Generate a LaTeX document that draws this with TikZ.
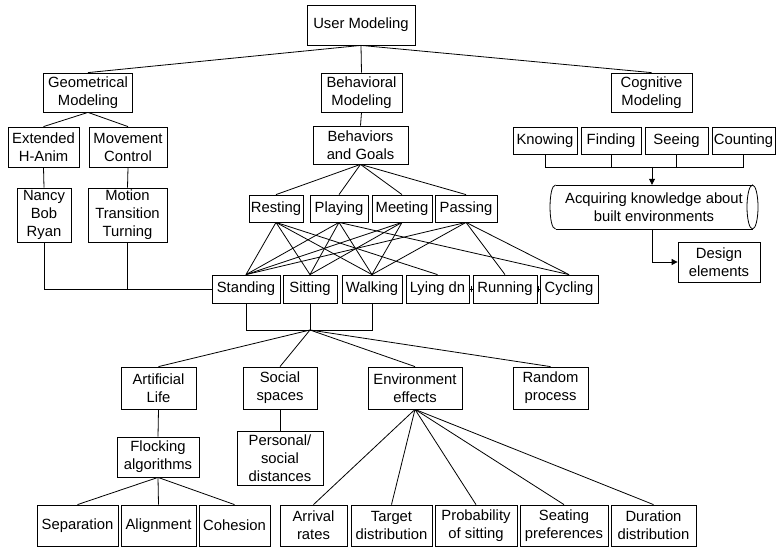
\documentclass[tikz,border=0pt]{standalone}
\usepackage{fontspec}
\setmainfont{Liberation Sans}
\usetikzlibrary{arrows.meta}
\newcommand{\fsz}{\fontsize{14.8}{18}\selectfont}
\tikzset{
  box/.style={draw, line width=0.8pt, inner sep=0pt, align=center, font=\fsz},
  link/.style={line width=0.8pt},
  arr/.style={line width=0.8pt, -{Triangle[length=6pt,width=6pt]}}
}
\newcommand{\bx}[5]{\node[box, minimum width=#3, minimum height=#4] (#1) at #2 {#5};}
\begin{document}
\begin{tikzpicture}[x=1pt,y=-1pt]
\useasboundingbox (0,0) rectangle (776,548);
% top
\bx{um}{(361,25)}{108}{40}{User Modeling}
\bx{geo}{(88,92.5)}{89}{39}{Geometrical\\Modeling}
\bx{beh}{(361.5,92.5)}{81}{39}{Behavioral\\Modeling}
\bx{cog}{(651.5,92.5)}{81}{39}{Cognitive\\Modeling}
\bx{ext}{(43.5,147)}{71}{40}{Extended\\H-Anim}
\bx{mov}{(128,147)}{78}{40}{Movement\\Control}
\bx{bg}{(360.5,145)}{95}{38}{Behaviors\\and Goals}
\bx{nancy}{(44,215)}{54}{54}{Nancy\\Bob\\Ryan}
\bx{motion}{(127.5,215)}{79}{54}{Motion\\Transition\\Turning}
% behaviours
\bx{resting}{(276,208.5)}{54}{27}{Resting}
\bx{playing}{(339,208.5)}{58}{27}{Playing}
\bx{meeting}{(402,208.5)}{60}{27}{Meeting}
\bx{passing}{(466,208.5)}{62}{27}{Passing}
% actions
\bx{standing}{(246,289)}{68}{28}{Standing}
\bx{sitting}{(310,289)}{54}{28}{Sitting}
\bx{walking}{(372,289)}{60}{28}{Walking}
\bx{lying}{(437.5,289)}{63}{28}{Lying dn}
\bx{running}{(505,289)}{64}{28}{Running}
\bx{cycling}{(569,289)}{58}{28}{Cycling}
% cognitive
\bx{knowing}{(545,140.5)}{64}{27}{Knowing}
\bx{finding}{(611,140.5)}{60}{27}{Finding}
\bx{seeing}{(676.5,140.5)}{63}{27}{Seeing}
\bx{counting}{(743.5,140.5)}{63}{27}{Counting}
\node[inner sep=0pt, align=center, font=\fsz, minimum width=208, minimum height=44] (acq) at (654,207) {Acquiring knowledge about\\built environments};
\draw[link] (555.5,185) -- (752.5,185);
\draw[link] (555.5,229) -- (752.5,229);
\draw[link] (555.5,185) .. controls (548.2,185) and (548.2,229) .. (555.5,229);
\draw[link] (752.5,207) ellipse [x radius=5.5, y radius=22];
\bx{design}{(719,262)}{82}{40}{Design\\elements}
% lower part
\bx{artlife}{(158.5,388)}{75}{42}{Artificial\\Life}
\bx{social}{(280,388)}{74}{42}{Social\\spaces}
\bx{env}{(415,388)}{94}{42}{Environment\\effects}
\bx{random}{(550.5,388)}{75}{42}{Random\\process}
\bx{flock}{(158,457)}{82}{40}{Flocking\\algorithms}
\bx{personal}{(280,458)}{86}{54}{Personal/\\social\\distances}
\bx{separation}{(77.5,525.5)}{81}{41}{Separation}
\bx{alignment}{(158.5,525.5)}{75}{41}{Alignment}
\bx{cohesion}{(234.5,525.5)}{71}{41}{Cohesion}
\bx{arrival}{(313.5,525.5)}{67}{41}{Arrival\\rates}
\bx{target}{(391.5,525.5)}{81}{41}{Target\\distribution}
\bx{prob}{(476,525.5)}{82}{41}{Probability\\of sitting}
\bx{seating}{(564,525.5)}{88}{41}{Seating\\preferences}
\bx{duration}{(653.5,525.5)}{85}{41}{Duration\\distribution}
% connectors: top tree
\foreach \t in {geo,beh,cog} \draw[link] (um.south) -- (\t.north);
\foreach \t in {ext,mov} \draw[link] (geo.south) -- (\t.north);
\draw[link] (beh.south) -- (bg.north);
\draw[link] (ext.south) -- (nancy.north);
\draw[link] (mov.south) -- (motion.north);
\draw[link] (nancy.south) |- (standing.west);
\draw[link] (motion.south) -- (motion.south |- standing.west);
\foreach \t in {resting,playing,meeting,passing} \draw[link] (bg.south) -- (\t.north);
% behaviours to actions
\foreach \t in {standing,sitting,walking,lying} \draw[link] (resting.south) -- (\t.north);
\foreach \t in {standing,sitting,walking,cycling} \draw[link] (playing.south) -- (\t.north);
\foreach \t in {standing,sitting,walking} \draw[link] (meeting.south) -- (\t.north);
\foreach \t in {standing,walking,running,cycling} \draw[link] (passing.south) -- (\t.north);
\draw[link] (lying.east) -- (running.west);
\draw[link] (running.east) -- (cycling.west);
\draw[link] ([xshift=-1.5pt,yshift=-3pt]running.west) -- ([xshift=-1.5pt,yshift=3pt]running.west);
\draw[link] ([xshift=-1.5pt,yshift=-3pt]cycling.west) -- ([xshift=-1.5pt,yshift=3pt]cycling.west);
% cognitive bracket
\coordinate (cb) at (652,167);
\draw[link] (knowing.south) |- (counting.south |- cb) -- (counting.south);
\draw[link] (finding.south) -- (finding.south |- cb);
\draw[link] (seeing.south) -- (seeing.south |- cb);
\draw[arr] (cb) -- (cb |- acq.north);
\coordinate (acqb) at (652,229);
\draw[arr] (acqb) |- (design.west);
% action bracket
\coordinate (hub) at (310,330);
\draw[link] (standing.south) |- (walking.south |- hub) -- (walking.south);
\draw[link] (sitting.south) -- (hub);
\foreach \t in {artlife,social,env,random} \draw[link] (hub) -- (\t.north);
\draw[link] (artlife.south) -- (flock.north);
\draw[link] (social.south) -- (personal.north);
\foreach \t in {separation,alignment,cohesion} \draw[link] (flock.south) -- (\t.north);
\foreach \t in {arrival,target,prob,seating,duration} \draw[link] (env.south) -- (\t.north);
\end{tikzpicture}
\end{document}
